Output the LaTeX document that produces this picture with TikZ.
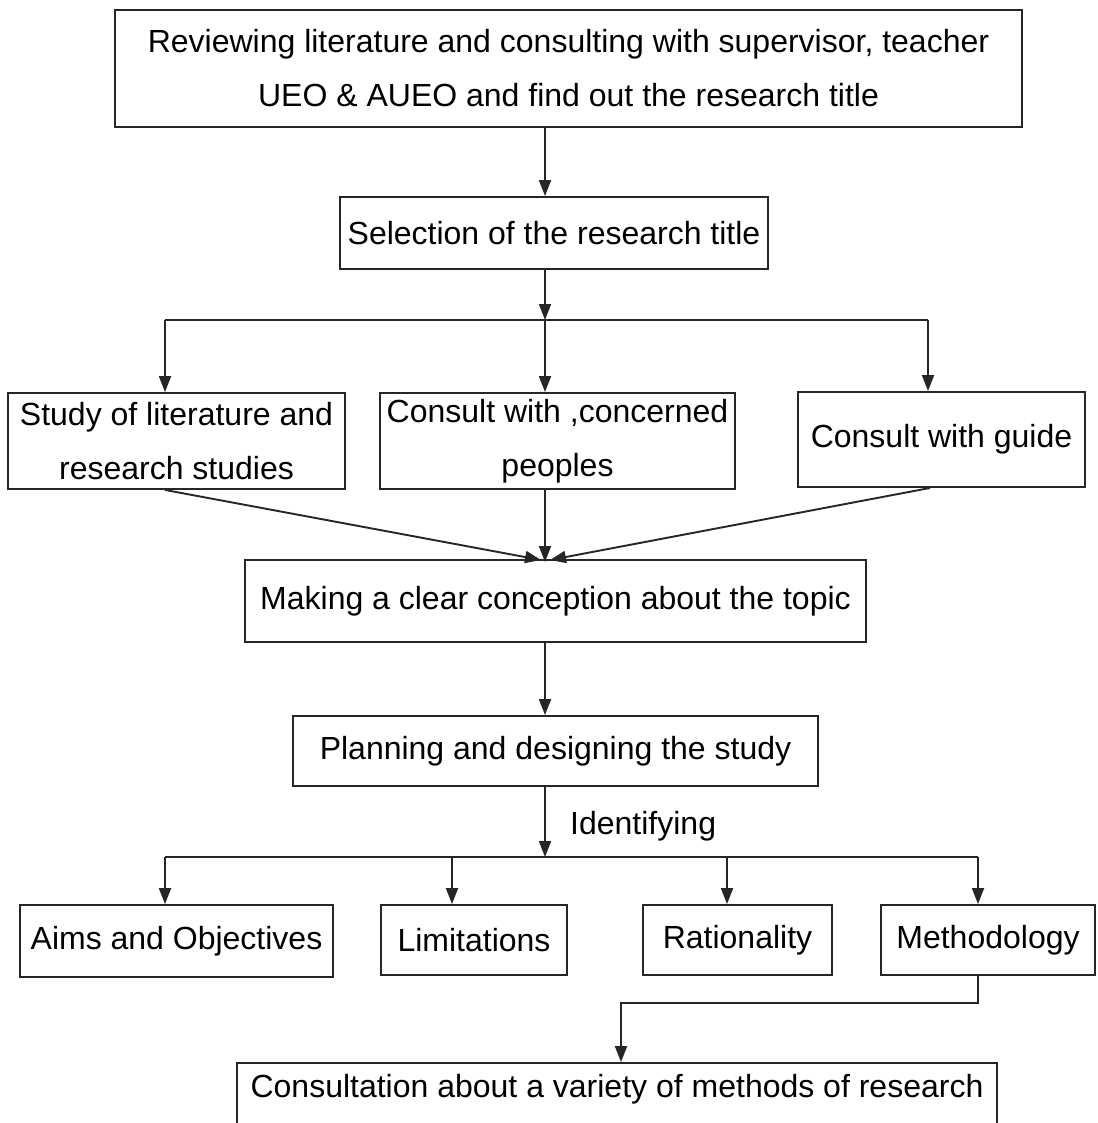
\documentclass[tikz,border=0pt]{standalone}
\usepackage{fontspec}
\setmainfont{Liberation Sans}
\usetikzlibrary{arrows.meta}
\begin{document}
\begin{tikzpicture}[x=1pt,y=-1pt,
  box/.style={draw=black!85, line width=1.9pt, inner sep=0pt, align=center,
    font=\fontsize{32}{54}\selectfont},
  lbl/.style={inner sep=0pt, font=\fontsize{32}{54}\selectfont},
  link/.style={draw=black!85, line width=1.9pt},
  arr/.style={link, -{Triangle[length=16pt,width=12pt]}}]
\useasboundingbox (0,0) rectangle (1097,1123);
\clip (0,0) rectangle (1097,1123);
\fill[white] (0,0) rectangle (1097,1123);

% boxes
\node[box, minimum width=907, minimum height=117] (rev) at (568.5,68.5)
  {Reviewing literature and consulting with supervisor, teacher\\UEO \& AUEO and find out the research title};
\node[box, minimum width=428, minimum height=72] (sel) at (554,233) {Selection of the research title};
\node[box, minimum width=337, minimum height=96] (lit) at (176.5,441) {Study of literature and\\research studies};
\node[box, minimum width=355, minimum height=96] (con) at (557.5,441) {Consult with ,concerned\\peoples};
\node[box, minimum width=287, minimum height=95] (gui) at (941.5,439.5) {Consult with guide};
\node[box, minimum width=621, minimum height=82] (mak) at (555.5,601) {Making a clear conception about the topic};
\node[box, minimum width=525, minimum height=70] (pla) at (555.5,751) {Planning and designing the study};
\node[box, minimum width=313, minimum height=72] (aim) at (176.5,941) {Aims and Objectives};
\node[box, minimum width=186, minimum height=70] (lim) at (474,940) {Limitations};
\node[box, minimum width=189, minimum height=70] (rat) at (737.5,940) {Rationality};
\node[box, minimum width=214, minimum height=70] (met) at (988,940) {Methodology};
\node[box, minimum width=760, minimum height=120] (cns) at (617,1123) {};
\node[lbl] (cnstxt) at (617,1089) {Consultation about a variety of methods of research};

% routing points
\coordinate (tx) at (545,0);
\coordinate (busA) at (545,320);
\coordinate (dA1) at (165,320);
\coordinate (dA3) at (928,320);
\coordinate (meet) at (545,560);
\coordinate (busB) at (545,857);
\coordinate (dB1) at (165,857);
\coordinate (dB2) at (452,857);
\coordinate (dB3) at (727,857);
\coordinate (dB4) at (978,857);
\coordinate (elbowR) at (978,1003);
\coordinate (elbowL) at (621,1003);

% connectors
\draw[arr] (rev.south -| tx) -- (sel.north -| tx);
\draw[arr] (sel.south -| tx) -- (busA);
\draw[link] (dA1) -- (dA3);
\draw[arr] (dA1) -- (dA1 |- lit.north);
\draw[arr] (busA) -- (busA |- con.north);
\draw[arr] (dA3) -- (dA3 |- gui.north);

\draw[arr] (lit.south -| dA1) -- ([xshift=-4pt]meet);
\draw[arr] (con.south -| tx) -- ([yshift=-2pt]meet);
\draw[arr] (gui.south -| 930,0) -- ([xshift=5pt]meet);

\draw[arr] (mak.south -| tx) -- (pla.north -| tx);
\draw[arr] (pla.south -| tx) -- (busB);
\node[lbl, anchor=west] (ident) at (570,826) {Identifying};
\draw[link] (dB1) -- (dB4);
\draw[arr] (dB1) -- (dB1 |- aim.north);
\draw[arr] (dB2) -- (dB2 |- lim.north);
\draw[arr] (dB3) -- (dB3 |- rat.north);
\draw[arr] (dB4) -- (dB4 |- met.north);

\draw[arr] (met.south -| elbowR) -- (elbowR) -- (elbowL) -- (elbowL |- cns.north);
\end{tikzpicture}
\end{document}
